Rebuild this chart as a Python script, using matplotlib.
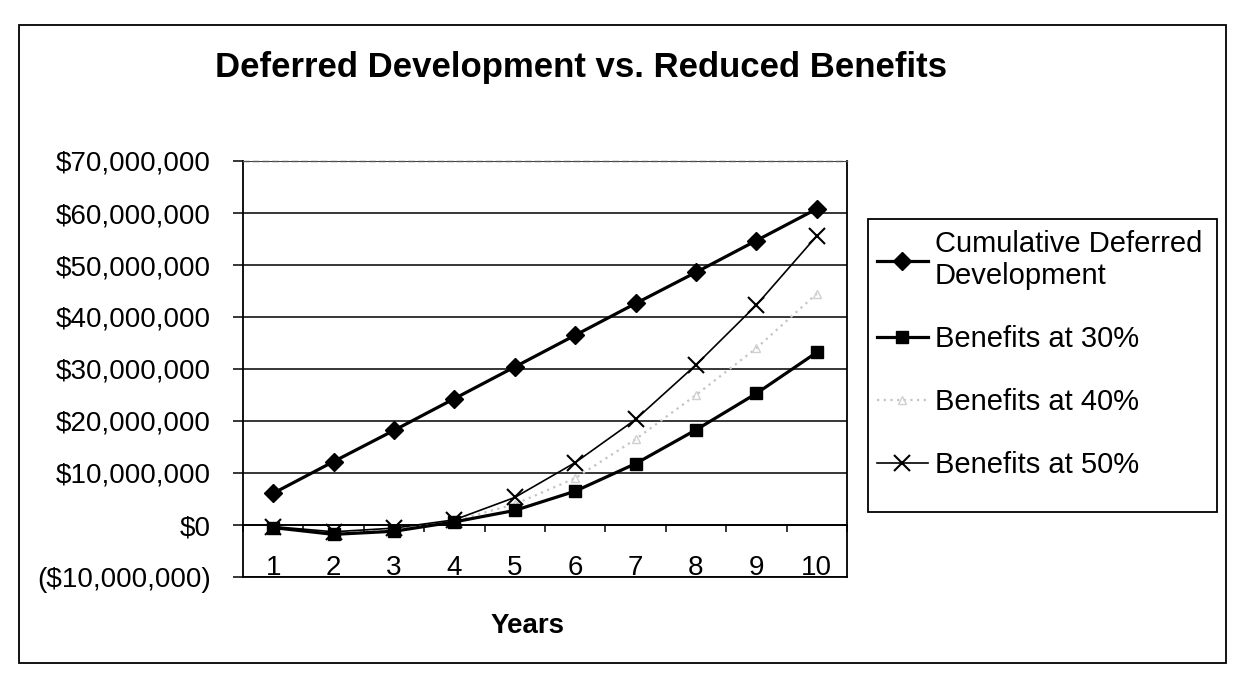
import matplotlib
matplotlib.use('Agg')
import matplotlib.pyplot as plt
from matplotlib.ticker import FuncFormatter, MultipleLocator
from matplotlib.patches import Rectangle

plt.rcParams['font.family'] = ['Liberation Sans', 'DejaVu Sans']

# data (values in dollars)
years = [1, 2, 3, 4, 5, 6, 7, 8, 9, 10]
cumulative = [6.1e6, 12.2e6, 18.2e6, 24.3e6, 30.4e6, 36.5e6, 42.6e6, 48.6e6, 54.7e6, 60.8e6]
benefits_30 = [-0.5e6, -1.8e6, -1.2e6, 0.6e6, 2.8e6, 6.5e6, 11.8e6, 18.3e6, 25.3e6, 33.2e6]
benefits_40 = [-0.4e6, -1.5e6, -0.9e6, 0.8e6, 4.0e6, 9.0e6, 16.5e6, 25.0e6, 34.0e6, 44.5e6]
benefits_50 = [-0.3e6, -1.3e6, -0.6e6, 1.0e6, 5.3e6, 12.0e6, 20.3e6, 30.8e6, 42.3e6, 55.6e6]
series_labels = ["Cumulative Deferred\nDevelopment", "Benefits at 30%",
                 "Benefits at 40%", "Benefits at 50%"]
y_min, y_max = -10e6, 70e6


def money(v, pos):
    if v < 0:
        return "(${:,.0f})".format(-v)
    return "${:,.0f}".format(v)


W, H = 1238, 692
fig = plt.figure(figsize=(W / 100, H / 100), dpi=100)

# outer chart frame
fig.patches.append(Rectangle((19 / W, 1 - 663 / H), 1207 / W, 638 / H,
                             transform=fig.transFigure, fill=False,
                             edgecolor='black', linewidth=1.3))

ax = fig.add_axes([243 / W, 1 - 577 / H, 604 / W, 416 / H])

ax.plot(years, cumulative, color='black', lw=2.3, marker='D', ms=9,
        label=series_labels[0], zorder=5)
ax.plot(years, benefits_30, color='black', lw=2.3, marker='s', ms=9,
        label=series_labels[1], zorder=5)
ax.plot(years, benefits_40, color='#c4c4c4', lw=1.6, ls=(0, (1, 2)),
        marker='^', ms=6, mfc='none', mec='#d0d0d0', label=series_labels[2], zorder=4)
ax.plot(years, benefits_50, color='black', lw=1.2, marker='x', ms=11, mew=1.5,
        label=series_labels[3], zorder=5)

ax.set_xlim(0.5, 10.5)
ax.set_ylim(y_min, y_max)

# y axis and gridlines
ax.yaxis.set_major_locator(MultipleLocator(10e6))
ax.yaxis.set_major_formatter(FuncFormatter(money))
ax.grid(axis='y', color='black', lw=1.1)
ax.tick_params(axis='y', direction='out', length=7, width=1.1, pad=16, labelsize=20)

# category labels sit inside the plot, on the bottom border
ax.set_xticks(years)
ax.set_xticklabels([str(y) for y in years])
ax.tick_params(axis='x', length=0, pad=-16, labelsize=20)

# x axis line at $0 with tick marks between categories
zero_pos = (0 - y_min) / (y_max - y_min)
sec = ax.secondary_xaxis(zero_pos)
sec.set_xticks([y - 0.5 for y in years] + [10.5])
sec.set_xticklabels([])
sec.tick_params(direction='out', length=5, width=1.1)
sec.spines['bottom'].set_linewidth(1.3)

for side in ['left', 'right', 'bottom']:
    ax.spines[side].set_linewidth(1.3)
ax.spines['top'].set_linestyle((0, (4, 3)))
ax.spines['top'].set_color('#555555')
ax.spines['top'].set_linewidth(1.0)

ax.set_xlabel("Years", fontsize=20, fontweight='bold')
ax.xaxis.set_label_coords((528 - 243) / 604, -(613 - 577) / 416)

fig.text(581 / W, 1 - 68 / H, "Deferred Development vs. Reduced Benefits",
         ha='center', va='center', fontsize=25, fontweight='bold')

# legend box drawn separately so it keeps the taller Excel-style size
fig.patches.append(Rectangle((868 / W, 1 - 512 / H), 349 / W, 293 / H,
                             transform=fig.transFigure, fill=False,
                             edgecolor='black', linewidth=1.3))
fig.legend(loc='upper left', bbox_to_anchor=(868 / W, 1 - 221 / H),
           fontsize=21, frameon=False, borderpad=0.3, labelspacing=1.2,
           handlelength=1.75, handletextpad=0.25, borderaxespad=0)

plt.savefig("out.png", dpi=100)
